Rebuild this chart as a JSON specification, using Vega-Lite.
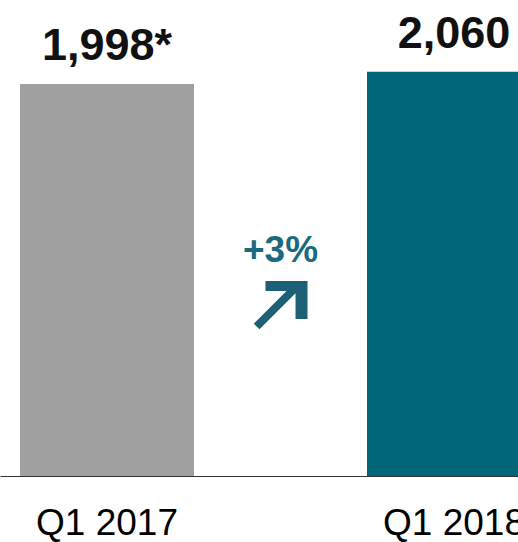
{
  "$schema": "https://vega.github.io/schema/vega-lite/v6.json",
  "width": 518,
  "height": 476,
  "autosize": {"type": "none"},
  "padding": {"left": 0, "top": 0, "right": 0, "bottom": 66},
  "background": "white",
  "config": {
    "view": {"stroke": null},
    "axisX": {
      "title": null,
      "labelAngle": 0,
      "labelFont": "Liberation Sans",
      "labelFontSize": 37,
      "labelColor": "#000000",
      "ticks": false,
      "tickSize": 0,
      "labelPadding": 29,
      "domainColor": "#333333",
      "domainWidth": 1,
      "grid": false
    }
  },
  "datasets": {
    "bars": [
      {"quarter": "Q1 2017", "value": 1998, "label": "1,998*"},
      {"quarter": "Q1 2018", "value": 2060, "label": "2,060"}
    ],
    "annot": [
      {"kind": "text", "xpos": 0.5, "ypos": 1091, "label": "+3%"},
      {"kind": "arrow", "xpos": 0.5, "ypos": 871.5, "label": ""}
    ]
  },
  "layer": [
    {
      "data": {"name": "bars"},
      "encoding": {
        "x": {
          "field": "quarter",
          "type": "nominal",
          "sort": null,
          "scale": {"range": [0, 561], "paddingInner": 0.4986, "paddingOuter": 0.0577}
        },
        "y": {
          "field": "value",
          "type": "quantitative",
          "scale": {"domain": [0, 2426], "nice": false, "zero": true},
          "axis": null
        }
      },
      "layer": [
        {
          "mark": {"type": "bar"},
          "encoding": {
            "color": {
              "field": "quarter",
              "type": "nominal",
              "scale": {"domain": ["Q1 2017", "Q1 2018"], "range": ["#a0a0a0", "#02667a"]},
              "legend": null
            }
          }
        },
        {
          "mark": {
            "type": "text",
            "font": "Liberation Sans",
            "fontWeight": "bold",
            "fontSize": 45,
            "baseline": "alphabetic",
            "align": "center",
            "dy": -24,
            "color": "#111111"
          },
          "encoding": {"text": {"field": "label"}}
        }
      ]
    },
    {
      "data": {"name": "annot"},
      "encoding": {
        "x": {
          "field": "xpos",
          "type": "quantitative",
          "scale": {"domain": [0, 1], "range": [0, 561]},
          "axis": null
        },
        "y": {
          "field": "ypos",
          "type": "quantitative",
          "scale": {"domain": [0, 2426], "nice": false, "zero": true},
          "axis": null
        }
      },
      "layer": [
        {
          "transform": [{"filter": "datum.kind === 'text'"}],
          "mark": {
            "type": "text",
            "font": "Liberation Sans",
            "fontWeight": "bold",
            "fontSize": 37,
            "baseline": "alphabetic",
            "align": "center",
            "color": "#1a6a80"
          },
          "encoding": {"text": {"field": "label"}}
        },
        {
          "transform": [{"filter": "datum.kind === 'arrow'"}],
          "mark": {
            "type": "point",
            "shape": "M-0.556,-0.889L1,-0.889L1,0.519L0.556,0.519L0.556,-0.433L-0.778,0.9L-0.989,0.693L0.222,-0.519L-0.556,-0.519Z",
            "size": 2916,
            "filled": true,
            "opacity": 1,
            "strokeWidth": 0,
            "color": "#1d5f74"
          }
        }
      ]
    }
  ],
  "resolve": {"scale": {"x": "independent"}, "axis": {"x": "independent"}}
}
